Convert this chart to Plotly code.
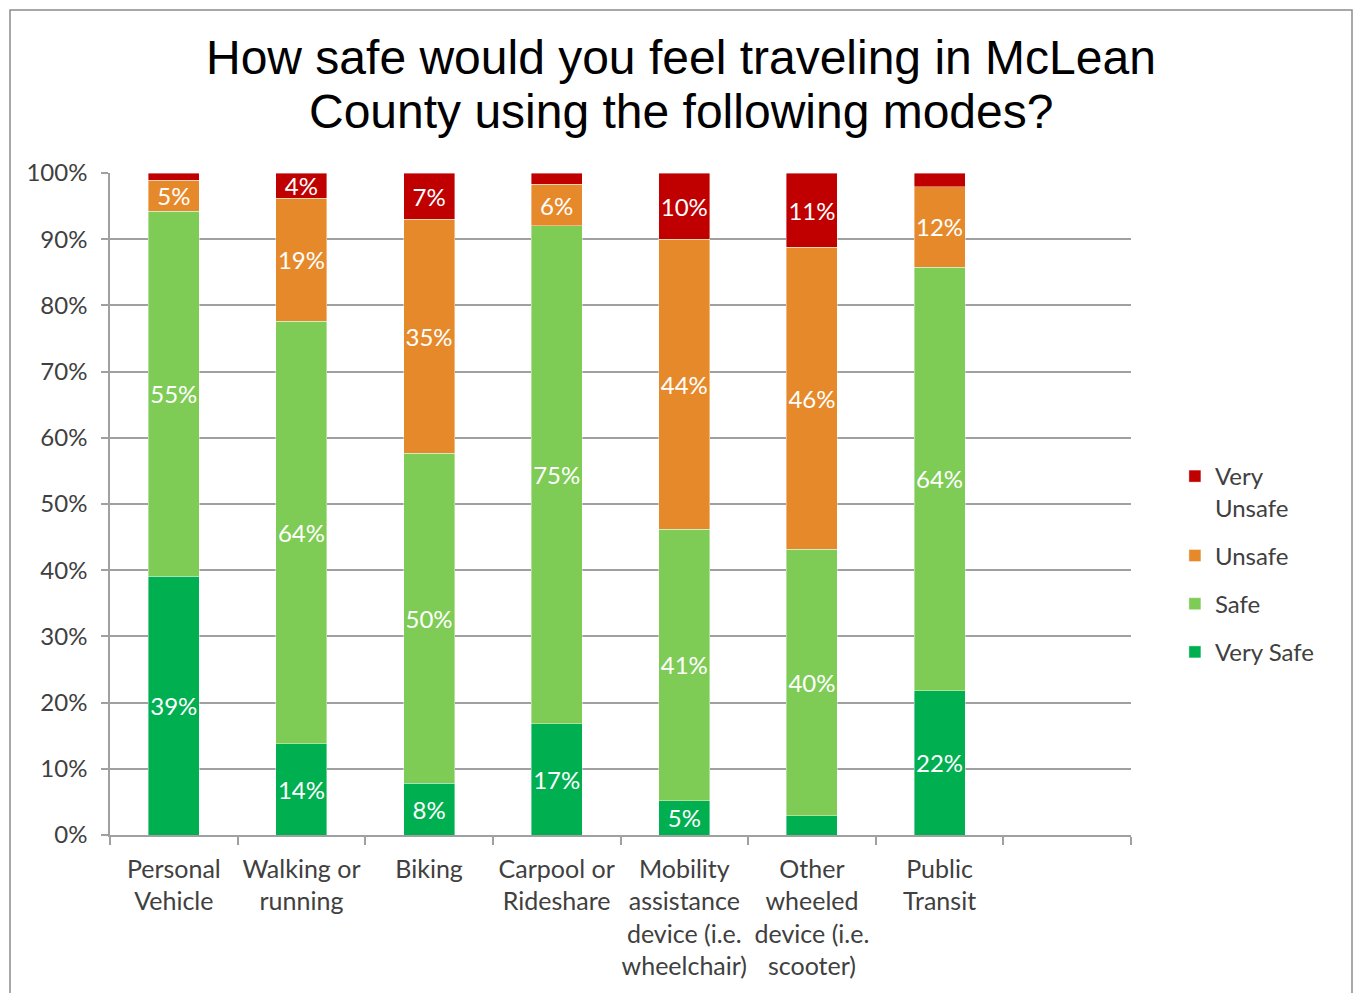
import plotly.graph_objects as go

categories = [
    "Personal<br>Vehicle",
    "Walking or<br>running",
    "Biking",
    "Carpool or<br>Rideshare",
    "Mobility<br>assistance<br>device (i.e.<br>wheelchair)",
    "Other<br>wheeled<br>device (i.e.<br>scooter)",
    "Public<br>Transit",
]

very_safe = [39.1, 13.8, 7.8, 16.8, 5.2, 2.9, 21.8]
safe = [55.1, 63.8, 49.9, 75.2, 41.0, 40.3, 64.0]
unsafe = [4.7, 18.6, 35.3, 6.3, 43.8, 45.6, 12.1]
very_unsafe = [1.1, 3.8, 7.0, 1.7, 10.0, 11.2, 2.1]

series = [
    ("Very Safe", very_safe, "#00B050", 4),
    ("Safe", safe, "#7ECC55", 3),
    ("Unsafe", unsafe, "#E6892A", 2),
    ("Very<br>Unsafe", very_unsafe, "#C00000", 1),
]

y_ticks = [0, 10, 20, 30, 40, 50, 60, 70, 80, 90, 100]

title_lines = ["How safe would you feel traveling in McLean",
               "County using the following modes?"]

FONT = "Lato"
TXT = "#404040"

x_pos = list(range(len(categories)))

fig = go.Figure()
for name, vals, color, rank in series:
    labels = [f"{round(v)}%" if v >= 3.5 else "" for v in vals]
    fig.add_trace(go.Bar(
        x=x_pos, y=vals, name=name,
        marker=dict(color=color, line=dict(color="rgba(255,255,255,0.5)", width=0.8)),
        text=labels, textposition="inside", insidetextanchor="middle",
        textangle=0, constraintext="none",
        textfont=dict(family=FONT, size=24, color="white"),
        legendgroup=name, legendrank=rank,
        hoverinfo="skip",
    ))

annotations = []
for line, ypix in zip(title_lines, [58, 111]):
    annotations.append(dict(
        text=line, xref="paper", yref="paper",
        x=(681 - 110) / 1021, y=(835 - ypix) / 662,
        xanchor="center", yanchor="middle", showarrow=False,
        font=dict(family="Liberation Sans, Arial", size=48, color="black"),
    ))

fig.update_layout(
    width=1354, height=993,
    barmode="stack", bargap=0.6,
    paper_bgcolor="white", plot_bgcolor="white",
    margin=dict(l=110, r=223, t=173, b=158, autoexpand=False),
    annotations=annotations,
    showlegend=True,
    legend=dict(
        x=1.043, xanchor="left", y=(835 - 454) / 662, yanchor="top",
        traceorder="grouped", tracegroupgap=14, valign="top",
        font=dict(family=FONT, size=24, color=TXT),
        bgcolor="rgba(0,0,0,0)",
    ),
    xaxis=dict(
        range=[-0.5, 7.5], automargin=False,
        tickmode="array", tickvals=x_pos, ticktext=categories,
        ticks="", showgrid=False, zeroline=False,
        showline=True, linecolor="#A0A0A0", linewidth=1.5,
        tickfont=dict(family=FONT, size=25, color=TXT),
        ticklabelstandoff=11,
        minor=dict(tick0=-0.5, dtick=1, ticks="outside", ticklen=8,
                   tickcolor="#A0A0A0", tickwidth=1.5, showgrid=False),
    ),
    yaxis=dict(
        range=[0, 100], automargin=False, tickmode="array", tickvals=y_ticks,
        ticktext=[f"{t}%" for t in y_ticks],
        ticks="outside", ticklen=7, tickcolor="#A0A0A0", tickwidth=1.5,
        showgrid=True, gridcolor="#A0A0A0", gridwidth=1.5,
        zeroline=False, showline=True, linecolor="#A0A0A0", linewidth=1.5,
        tickfont=dict(family=FONT, size=24, color=TXT),
        ticklabelstandoff=9,
    ),
    shapes=[dict(
        type="rect", xref="paper", yref="paper",
        x0=(10 - 110) / 1021, x1=(1352 - 110) / 1021,
        y0=(835 - 1010) / 662, y1=(835 - 10) / 662,
        line=dict(color="#8C8C8C", width=1.5), fillcolor="rgba(0,0,0,0)",
        layer="below",
    )],
)

fig.write_html("out.html")
